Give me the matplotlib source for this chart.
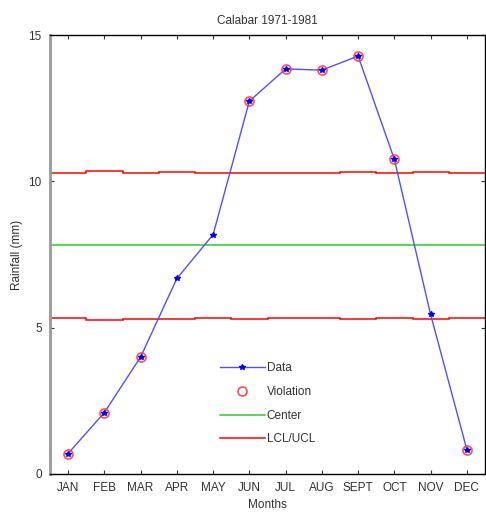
import numpy as np
import matplotlib.pyplot as plt

plt.rcParams['font.family'] = ['Liberation Sans', 'DejaVu Sans']

months = ['JAN', 'FEB', 'MAR', 'APR', 'MAY', 'JUN', 'JUL', 'AUG', 'SEPT', 'OCT', 'NOV', 'DEC']
rainfall = [0.70, 2.10, 4.00, 6.68, 8.18, 12.74, 13.84, 13.80, 14.28, 10.75, 5.45, 0.83]
center = 7.83
ucl = [10.28, 10.37, 10.28, 10.31, 10.28, 10.30, 10.28, 10.28, 10.31, 10.28, 10.31, 10.28]
lcl = [5.32, 5.25, 5.30, 5.30, 5.32, 5.29, 5.32, 5.32, 5.29, 5.32, 5.28, 5.32]

x = np.arange(1, len(months) + 1)
rain = np.array(rainfall)
out = (rain > np.array(ucl)) | (rain < np.array(lcl))

fig = plt.figure(figsize=(4.86, 5.21), dpi=100)
ax = fig.add_axes([50 / 486, 47 / 521, 435 / 486, 439 / 521])

edges = np.arange(0.5, len(months) + 1)
ax.plot(x, rain, color='#5050ff', lw=1.0, marker='*', ms=4, mfc='blue', mec='blue',
        label='Data', zorder=3)
ax.plot(x[out], rain[out], ls='none', marker='o', ms=6.5, mfc='none', mec='#ff3030',
        mew=1.2, alpha=0.85, label='Violation', zorder=4)
ax.plot([0.5, 12.5], [center, center], color='#2ecc2e', lw=1.1, label='Center')
ax.stairs(ucl, edges, baseline=None, color='red', lw=1.1, label='LCL/UCL')
ax.stairs(lcl, edges, baseline=None, color='red', lw=1.1)

ax.set_xlim(0.5, 12.5)
ax.set_ylim(0, 15)
ax.set_xticks(x)
ax.set_xticklabels(months)
ax.set_yticks([0, 5, 10, 15])
ax.tick_params(direction='in', top=True, right=True, length=3, labelsize=8.5,
               colors='#333333', pad=6)
for s in ['top', 'right', 'bottom']:
    ax.spines[s].set_color('black')
    ax.spines[s].set_linewidth(1.0)
ax.spines['left'].set_color('#999999')
ax.spines['left'].set_linewidth(2.0)

ax.set_title('Calabar 1971-1981', fontsize=8.5, color='#333333', pad=8)
ax.set_xlabel('Months', fontsize=8.5, color='#333333', labelpad=3)
ax.set_ylabel('Rainfall (mm)', fontsize=8.5, color='#333333', labelpad=4)

ax.legend(loc='upper left', bbox_to_anchor=(0.39, 0.255), frameon=False, fontsize=8.5,
          handlelength=3.8, handletextpad=0.2, labelspacing=1.0, borderpad=0,
          borderaxespad=0, labelcolor='#333333')

fig.savefig('out.png', dpi=100)
